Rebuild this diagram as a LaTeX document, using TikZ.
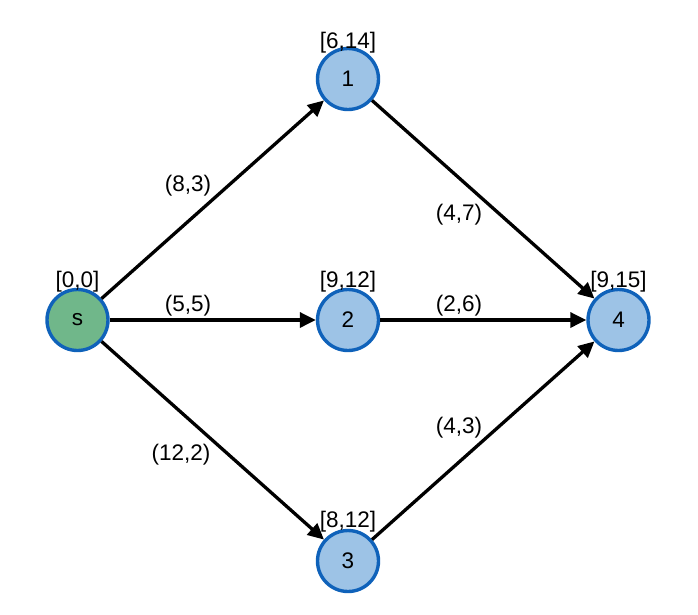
\documentclass[tikz,border=0pt]{standalone}
\usepackage{fontspec}
\setmainfont{Liberation Sans}
\usetikzlibrary{arrows.meta}
\definecolor{gfill}{HTML}{70B78A}
\definecolor{bfill}{HTML}{9DC3E6}
\definecolor{bdraw}{HTML}{0F62BA}
\tikzset{
  vtx/.style={circle, draw=bdraw, line width=3.4pt, minimum size=61pt, inner sep=0pt, font=\fontsize{22.5}{26}\selectfont},
  lbl/.style={inner sep=0pt, font=\fontsize{22.5}{26}\selectfont},
  arr/.style={line width=3.3pt, -{Triangle[length=16pt,width=15pt]}}
}
\begin{document}
\begin{tikzpicture}[x=1pt,y=-1pt]
\useasboundingbox (0,0) rectangle (698,614);
\node[vtx, fill=gfill] (s) at (77.5,320) {s};
\node[vtx, fill=bfill] (n1) at (348,79) {1};
\node[vtx, fill=bfill] (n2) at (348,320) {2};
\node[vtx, fill=bfill] (n3) at (348,561) {3};
\node[vtx, fill=bfill] (n4) at (618.5,320) {4};
\node[lbl] (ls) at (77.5,282) {[0,0]};
\node[lbl] (l1) at (348,43) {[6,14]};
\node[lbl] (l2) at (348,282) {[9,12]};
\node[lbl] (l3) at (348,522) {[8,12]};
\node[lbl] (l4) at (618.5,282) {[9,15]};
\draw[arr] (s) -- (n1);
\draw[arr] (s) -- (n2);
\draw[arr] (s) -- (n3);
\draw[arr] (n1) -- (n4);
\draw[arr] (n2) -- (n4);
\draw[arr] (n3) -- (n4);
\node[lbl] (e1) at (188,186) {(8,3)};
\node[lbl] (e2) at (188,306) {(5,5)};
\node[lbl] (e3) at (181,455) {(12,2)};
\node[lbl] (e4) at (459,214.5) {(4,7)};
\node[lbl] (e5) at (459,306) {(2,6)};
\node[lbl] (e6) at (459,428) {(4,3)};
\end{tikzpicture}
\end{document}
